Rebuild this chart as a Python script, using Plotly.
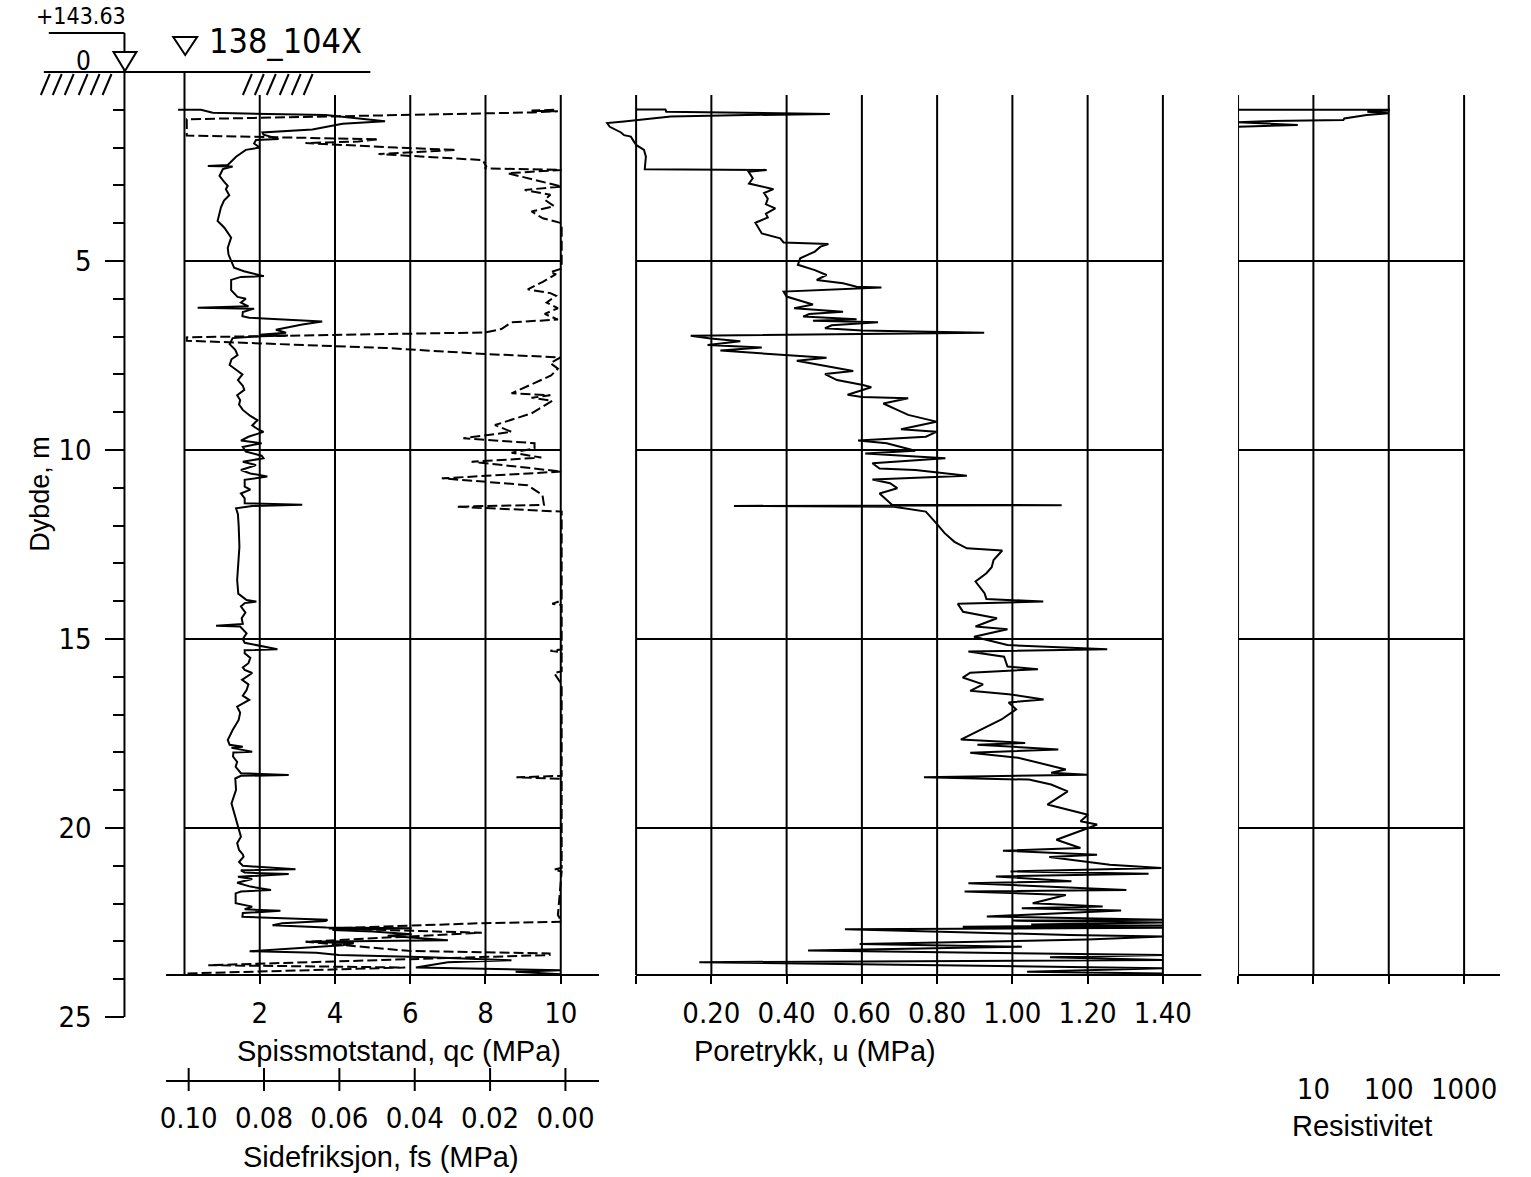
import math
import plotly.graph_objects as go

# ---------------- data ----------------
qc_depth = [1.00, 1.00, 1.08, 1.14, 1.30, 1.37, 1.52, 1.60, 1.66, 1.77, 1.80, 1.89, 2.00, 2.06, 2.24,
            2.46, 2.49, 2.50, 2.57, 2.75, 2.90, 3.01, 3.10, 3.26, 3.40, 3.58, 3.94, 4.12, 4.38, 4.65,
            4.83, 5.18, 5.27, 5.40, 5.42, 5.50, 5.77, 5.95, 6.00, 6.10, 6.20, 6.24, 6.26, 6.35, 6.46,
            6.50, 6.60, 6.68, 6.82, 6.90, 6.95, 6.97, 6.99, 7.04, 7.20, 7.35, 7.49, 7.60, 7.75, 7.90,
            8.00, 8.15, 8.30, 8.41, 8.55, 8.68, 8.80, 8.94, 9.10, 9.21, 9.35, 9.45, 9.52, 9.65, 9.75,
            9.82, 9.92, 10.04, 10.15, 10.22, 10.31, 10.40, 10.53, 10.62, 10.70, 10.79, 10.97, 11.05,
            11.15, 11.28, 11.41, 11.45, 11.48, 11.54, 11.70, 12.00, 12.56, 13.00, 13.44, 13.80, 13.97,
            14.01, 14.05, 14.14, 14.30, 14.45, 14.60, 14.65, 14.67, 14.85, 15.00, 15.10, 15.27, 15.30,
            15.38, 15.50, 15.64, 15.75, 15.82, 15.90, 16.08, 16.20, 16.35, 16.50, 16.61, 16.79, 16.95,
            17.14, 17.41, 17.67, 17.80, 17.85, 17.88, 17.98, 18.00, 18.11, 18.25, 18.38, 18.55, 18.60,
            18.62, 18.69, 18.99, 19.35, 19.61, 19.96, 20.23, 20.40, 20.58, 20.70, 20.76, 20.90, 21.00,
            21.09, 21.12, 21.18, 21.22, 21.29, 21.35, 21.45, 21.55, 21.64, 21.68, 21.73, 21.99, 22.08,
            22.15, 22.19, 22.25, 22.35, 22.43, 22.46, 22.52, 22.57, 22.63, 22.65, 22.70, 22.74, 22.81,
            22.85, 22.97, 23.01, 23.05, 23.10, 23.26, 23.30, 23.36, 23.42, 23.50, 23.55, 23.69, 23.76,
            23.80, 23.87]
qc_mpa = [-0.17, 0.44, 0.75, 3.75, 5.33, 4.20, 3.40, 2.07, 2.10, 2.50, 1.90, 1.85, 2.00, 1.63, 1.37,
          1.15, 0.62, 1.28, 1.02, 0.93, 1.05, 1.15, 1.10, 1.19, 1.05, 0.97, 0.88, 1.06, 1.24, 1.15,
          1.17, 1.32, 1.58, 2.11, 1.50, 1.24, 1.24, 1.41, 1.63, 1.50, 1.70, 0.35, 1.85, 1.55, 1.54,
          1.72, 3.66, 3.13, 2.43, 2.70, 2.00, 2.75, 2.03, 1.28, 1.20, 1.35, 1.41, 1.25, 1.20, 1.40,
          1.54, 1.42, 1.55, 1.59, 1.40, 1.48, 1.45, 1.55, 1.75, 1.94, 1.80, 1.95, 2.10, 1.70, 1.50,
          2.05, 1.55, 1.63, 2.05, 2.10, 1.55, 1.90, 1.50, 1.75, 2.20, 1.60, 1.60, 1.75,
          1.50, 1.60, 1.60, 3.13, 1.80, 1.37, 1.42, 1.44, 1.46, 1.43, 1.40, 1.43, 1.65,
          1.91, 1.60, 1.50, 1.62, 1.52, 1.55, 0.84, 1.48, 1.65, 1.55, 1.60, 2.47, 1.60,
          1.60, 1.75, 1.70, 1.55, 1.60, 1.80, 1.53, 1.70, 1.65, 1.55, 1.72, 1.40, 1.48,
          1.44, 1.28, 1.15, 1.20, 1.55, 1.25, 1.80, 1.30, 1.29, 1.40, 1.36, 1.50, 2.77,
          1.50, 1.35, 1.37, 1.25, 1.33, 1.42, 1.50, 1.40, 1.45, 1.55, 1.57, 1.45, 1.55,
          2.95, 1.50, 1.60, 2.77, 1.42, 1.80, 1.40, 1.75, 2.30, 1.50, 1.36, 1.36, 1.80,
          1.60, 2.55, 1.55, 1.54, 3.80, 3.75, 2.60, 2.34, 3.77, 6.04, 3.93, 5.00, 6.04,
          5.40, 7.00, 3.22, 4.50, 4.20, 1.73, 3.50, 4.10, 6.50, 8.69, 7.00, 6.15, 10.00,
          8.80, 10.00]

fs_depth = [1.00, 1.02, 1.04, 1.07, 1.25, 1.68, 1.78, 1.84, 1.88, 2.00, 2.06, 2.12, 2.17, 2.33, 2.50,
            2.55, 2.59, 2.68, 2.85, 3.03, 3.12, 3.25, 3.38, 3.55, 3.69, 3.87, 4.00, 5.20, 5.30, 5.35,
            5.55, 5.75, 5.85, 5.92, 6.10, 6.25, 6.40, 6.55, 6.62, 6.80, 6.89, 7.02, 7.11, 7.30, 7.46,
            7.55, 7.70, 7.85, 8.03, 8.30, 8.50, 8.55, 8.62, 8.70, 8.85, 9.03, 9.34, 9.52, 9.69, 9.82,
            9.96, 10.07, 10.20, 10.31, 10.45, 10.57, 10.75, 10.93, 11.19, 11.45, 11.50, 11.63, 13.98,
            14.07, 14.10, 15.28, 15.31, 15.35, 15.85, 15.90, 16.20, 18.62, 18.66, 18.70, 21.05, 21.10,
            21.15, 22.30, 22.48, 22.52, 22.66, 22.77, 23.01, 23.25, 23.32, 23.36, 23.63, 23.69, 23.85]
fs_mpa = [0.003, 0.009, 0.002, 0.009, 0.1005, 0.1005, 0.0496, 0.055, 0.069, 0.045, 0.029, 0.040,
          0.0496, 0.022, 0.021, 0.0214, 0.001, 0.0153, 0.008, 0.001, 0.0108, 0.004, 0.0055, 0.003,
          0.009, 0.006, 0.001, 0.001, 0.004, 0.0025, 0.006, 0.010, 0.004, 0.0025, 0.005, 0.002,
          0.0055, 0.002, 0.0143, 0.017, 0.0214, 0.1005, 0.1005, 0.0478, 0.0214, 0.0013, 0.004,
          0.002, 0.0038, 0.010, 0.0143, 0.004, 0.009, 0.0035, 0.006, 0.009, 0.0187, 0.0143,
          0.0271, 0.0082, 0.0082, 0.0143, 0.0064, 0.0249, 0.012, 0.001, 0.0328, 0.0101, 0.0061,
          0.0057, 0.0289, 0.001, 0.001, 0.0035, 0.001, 0.001, 0.004, 0.001, 0.001, 0.003, 0.001,
          0.001, 0.013, 0.001, 0.001, 0.003, 0.001, 0.002, 0.001, 0.0232, 0.0628, 0.0222, 0.0689,
          0.0417, 0.0042, 0.0042, 0.0948, 0.0425, 0.1005]

u_depth = [0.99, 0.99, 1.05, 1.11, 1.14, 1.18, 1.31, 1.35, 1.45, 1.60, 1.67, 1.71, 1.93, 2.06, 2.24,
           2.57, 2.59, 2.64, 2.81, 2.95, 3.10, 3.20, 3.35, 3.50, 3.61, 3.75, 3.85, 3.99, 4.27, 4.40,
           4.51, 4.55, 4.62, 4.75, 4.93, 5.10, 5.24, 5.37, 5.50, 5.59, 5.68, 5.70, 5.81, 5.94, 6.03,
           6.15, 6.25, 6.34, 6.40, 6.47, 6.54, 6.58, 6.62, 6.70, 6.78, 6.84, 6.90, 6.98, 7.05, 7.12,
           7.22, 7.29, 7.37, 7.49, 7.56, 7.64, 7.91, 7.99, 8.15, 8.28, 8.34, 8.54, 8.60, 8.63, 8.77,
           8.94, 9.07, 9.25, 9.45, 9.52, 9.65, 9.75, 9.82, 10.02, 10.09, 10.22, 10.35, 10.49, 10.53,
           10.68, 10.78, 10.88, 11.01, 11.15, 11.32, 11.45, 11.46, 11.48, 11.50, 11.63, 11.94, 12.20,
           12.43, 12.60, 12.66, 12.91, 13.10, 13.26, 13.48, 13.79, 13.94, 14.01, 14.07, 14.28, 14.45,
           14.67, 14.74, 14.94, 15.16, 15.27, 15.33, 15.47, 15.73, 15.80, 15.89, 16.02, 16.20, 16.37,
           16.46, 16.60, 16.68, 16.86, 17.13, 17.44, 17.66, 17.75, 17.80, 17.92, 18.01, 18.14, 18.36,
           18.45, 18.54, 18.59, 18.66, 18.72, 18.85, 19.03, 19.38, 19.51, 19.65, 19.82, 19.91, 20.04,
           20.31, 20.53, 20.60, 20.71, 20.77, 20.97, 21.06, 21.15, 21.21, 21.28, 21.41, 21.46, 21.64,
           21.68, 21.77, 21.99, 22.08, 22.12, 22.18, 22.34, 22.43, 22.45, 22.50, 22.55, 22.58, 22.61,
           22.64, 22.68, 22.83, 22.87, 22.95, 23.07, 23.14, 23.24, 23.32, 23.36, 23.42, 23.49, 23.55,
           23.64, 23.67, 23.71, 23.80, 23.85]
u_mpa = [0.002, 0.078, 0.080, 0.515, 0.294, 0.092, -0.032, -0.077, -0.070, -0.040, -0.032, -0.014,
         0.000, 0.021, 0.026, 0.023, 0.347, 0.299, 0.310, 0.300, 0.365, 0.340, 0.350, 0.345, 0.370,
         0.345, 0.350, 0.317, 0.334, 0.383, 0.392, 0.511, 0.490, 0.475, 0.436, 0.430, 0.475, 0.506,
         0.480, 0.550, 0.586, 0.652, 0.392, 0.400, 0.430, 0.470, 0.420, 0.550, 0.460, 0.444, 0.586,
         0.470, 0.643, 0.520, 0.502, 0.600, 0.925, 0.145, 0.198, 0.277, 0.190, 0.334, 0.224, 0.392,
         0.506, 0.427, 0.577, 0.502, 0.534, 0.603, 0.625, 0.562, 0.600, 0.723, 0.657, 0.694, 0.723,
         0.798, 0.704, 0.798, 0.770, 0.590, 0.666, 0.742, 0.609, 0.822, 0.628, 0.647, 0.742, 0.879,
         0.628, 0.675, 0.694, 0.647, 0.666, 0.680, 1.131, 0.260, 0.685, 0.770, 0.798, 0.820, 0.846,
         0.879, 0.973, 0.950, 0.945, 0.931, 0.902, 0.926, 0.931, 1.082, 0.855, 0.869, 0.959, 0.902,
         0.987, 0.898, 0.987, 1.252, 0.883, 0.978, 0.987, 1.068, 0.888, 0.868, 0.922, 0.888, 0.990,
         1.083, 0.990, 1.010, 0.971, 0.907, 0.863, 1.034, 0.907, 1.122, 0.888, 1.015, 1.103, 1.142,
         1.103, 1.199, 0.765, 1.044, 1.103, 1.147, 1.093, 1.142, 1.201, 1.181, 1.225, 1.191, 1.117,
         1.181, 0.975, 1.225, 1.098, 1.259, 1.396, 0.995, 1.362, 0.956, 1.157, 0.883, 1.303, 0.873,
         1.142, 1.054, 1.240, 1.025, 1.289, 0.932, 1.400, 1.000, 1.400, 1.050, 1.400, 0.868, 1.400,
         0.555, 1.152, 1.400, 1.200, 0.594, 1.025, 0.457, 1.083, 1.400, 1.100, 1.400, 0.168, 0.868,
         1.034, 1.400, 1.039, 1.400]

res_depth = [1.00, 1.00, 1.02, 1.05, 1.09, 1.14, 1.23, 1.27, 1.30, 1.33, 1.40, 1.45]
res_ohm = [1.0, 100.0, 100.0, 52.0, 100.0, 51.0, 25.7, 25.0, 2.25, 1.0, 6.2, 1.0]

qc_ticks = [0, 2, 4, 6, 8, 10]
fs_ticks = [0.10, 0.08, 0.06, 0.04, 0.02, 0.00]
u_ticks = [0.0, 0.2, 0.4, 0.6, 0.8, 1.0, 1.2, 1.4]
res_ticks = [1, 10, 100, 1000]
depth_major = [5, 10, 15, 20, 25]
depth_minor = [d for d in range(1, 25) if d % 5]
grid_depths = [5, 10, 15, 20]

# ---------------- geometry ----------------
W, H = 1531, 1177
M = 37.8            # px per metre of depth
Y_TOP = 72          # pixel row of depth 0 (terrain)
D_END = (975 - Y_TOP) / M      # bottom of the sounding
D_GRID = (95 - Y_TOP) / M      # top of the grid columns
FONT = "Liberation Sans, Arial, sans-serif"
NARROW = "Liberation Sans Narrow, DejaVu Sans Condensed, Liberation Sans, sans-serif"
BLK = "black"


def fx(p):
    return p / W


def fy(p):
    return 1 - p / H


def depth_of(p):
    return (p - Y_TOP) / M


fig = go.Figure()

line_kw = dict(color=BLK, width=2)
fig.add_trace(go.Scatter(x=qc_mpa, y=qc_depth, mode="lines", line=line_kw,
                         xaxis="x", yaxis="y", hoverinfo="skip", showlegend=False))
fig.add_trace(go.Scatter(x=fs_mpa, y=fs_depth, mode="lines",
                         line=dict(color=BLK, width=2, dash="10px,4px"),
                         xaxis="x4", yaxis="y", hoverinfo="skip", showlegend=False))
fig.add_trace(go.Scatter(x=u_mpa, y=u_depth, mode="lines", line=line_kw,
                         xaxis="x2", yaxis="y", hoverinfo="skip", showlegend=False))
fig.add_trace(go.Scatter(x=res_ohm, y=res_depth, mode="lines", line=line_kw,
                         xaxis="x3", yaxis="y", hoverinfo="skip", showlegend=False))

shapes = []


def seg(x0, y0, x1, y1, xref, yref, w=2):
    shapes.append(dict(type="line", x0=x0, y0=y0, x1=x1, y1=y1, xref=xref, yref=yref,
                       line=dict(color=BLK, width=w), layer="above"))


# panel 1 grid
seg(0, 0, 0, D_END, "x", "y")
for v in qc_ticks[1:]:
    seg(v, D_GRID, v, D_END, "x", "y")
for d in grid_depths:
    seg(0, d, 10, d, "x", "y")
# panel 2 grid
for v in u_ticks:
    seg(v, D_GRID, v, D_END, "x2", "y")
for d in grid_depths:
    seg(0, d, 1.4, d, "x2", "y")
seg(0, D_END, 1.5026, D_END, "x2", "y")
# panel 3 grid (log axis, data values)
for v in res_ticks:
    seg(v, D_GRID, v, D_END, "x3", "y")
for d in grid_depths:
    seg(res_ticks[0], d, res_ticks[-1], d, "x3", "y")
# fs axis crossing ticks
for v in fs_ticks:
    shapes.append(dict(type="line", x0=v, x1=v, y0=fy(1068), y1=fy(1091), xref="x4", yref="paper",
                       line=dict(color=BLK, width=2)))

# depth axis line and header
seg(fx(118), depth_of(33), fx(118), 25, "paper", "y")
seg(fx(42), depth_of(33), fx(118), depth_of(33), "paper", "y")
seg(fx(37), 0, fx(365), 0, "paper", "y")


def path(points, closed=False):
    s = "M " + " L ".join(f"{fx(a):.5f},{fy(b):.5f}" for a, b in points)
    return s + (" Z" if closed else "")


for xb in [34, 46, 58, 72, 84, 96, 237, 249, 261, 274, 286, 298]:
    shapes.append(dict(type="path", path=path([(xb, 95), (xb + 9, 74)]), xref="paper", yref="paper",
                       line=dict(color=BLK, width=2)))
shapes.append(dict(type="path", path=path([(107, 52), (130, 52), (118.5, 71)], True),
                   xref="paper", yref="paper", line=dict(color=BLK, width=2), fillcolor="white"))
shapes.append(dict(type="path", path=path([(167, 37), (191, 37), (179, 55)], True),
                   xref="paper", yref="paper", line=dict(color=BLK, width=2)))

annotations = []


def text(s, x, y, size, angle=0, xanchor="center", family=FONT):
    annotations.append(dict(text=s, x=fx(x), y=fy(y), xref="paper", yref="paper", showarrow=False,
                            xanchor=xanchor, yanchor="middle", textangle=angle,
                            font=dict(family=family, size=size, color=BLK)))


text("+143.63", 74, 16, 23, family=NARROW)
text("0", 77, 61, 26, family=NARROW)
text("138_104X", 201, 41, 34, xanchor="left", family=NARROW)
text("Spissmotstand, qc (MPa)", 394, 1051, 29)
text("Sidefriksjon, fs (MPa)", 376, 1157, 29)
text("Poretrykk, u (MPa)", 812, 1051, 29)
text("Resistivitet", 1361, 1126, 29)
text("Dybde, m", 33, 494, 27, angle=-90)

tickfont = dict(family=NARROW, size=29, color=BLK)
common = dict(showgrid=False, zeroline=False, ticks="outside", ticklen=8, tickwidth=2,
              tickcolor=BLK, tickfont=tickfont, anchor="free", fixedrange=True)

fig.update_layout(
    width=W, height=H, margin=dict(l=0, r=0, t=0, b=0),
    paper_bgcolor="white", plot_bgcolor="white", showlegend=False,
    xaxis=dict(domain=[fx(160), fx(595)], range=[(160 - 178.3) / M, (595 - 178.3) / M],
               position=fy(975), showline=True, linecolor=BLK, linewidth=2,
               tickmode="array", tickvals=qc_ticks[1:], ticktext=[str(v) for v in qc_ticks[1:]],
               ticklabelstandoff=4, **common),
    xaxis4=dict(overlaying="x", range=[(561 - 160) / 3785, (561 - 595) / 3785],
                position=fy(1081), showline=True, linecolor=BLK, linewidth=2,
                tickmode="array", tickvals=fs_ticks, ticktext=[f"{v:.2f}" for v in fs_ticks],
                showgrid=False, zeroline=False, ticks="", tickfont=tickfont, anchor="free",
                ticklabelstandoff=11, fixedrange=True),
    xaxis2=dict(domain=[fx(600), fx(1200)], range=[(600 - 632) / 378, (1200 - 632) / 378],
                position=fy(975), showline=False,
                tickmode="array", tickvals=u_ticks,
                ticktext=["" if v == 0 else f"{v:.2f}" for v in u_ticks],
                ticklabelstandoff=4, **common),
    xaxis3=dict(type="log", domain=[fx(1236.7), fx(1500)], range=[0, (1500 - 1236.7) / 75.7],
                position=fy(975), showline=True, linecolor=BLK, linewidth=2,
                tickmode="array", tickvals=res_ticks,
                ticktext=["" if v == 1 else str(v) for v in res_ticks],
                ticklabelstandoff=80, **common),
    yaxis=dict(domain=[0, 1], range=[(H - Y_TOP) / M, -Y_TOP / M], position=fx(118),
               showline=False, showgrid=False, zeroline=False, anchor="free",
               ticks="outside", ticklen=19, tickwidth=2, tickcolor=BLK, tickfont=tickfont,
               tickmode="array", tickvals=depth_major, ticktext=[str(v) for v in depth_major],
               ticklabelstandoff=8, fixedrange=True,
               minor=dict(tickmode="array", tickvals=depth_minor, ticks="outside", ticklen=11,
                          tickwidth=2, tickcolor=BLK)),
    shapes=shapes,
    annotations=annotations,
)

fig.write_html("out.html", config={"displayModeBar": False},
               post_script="document.body.style.margin='0px';document.body.style.overflow='hidden';")
